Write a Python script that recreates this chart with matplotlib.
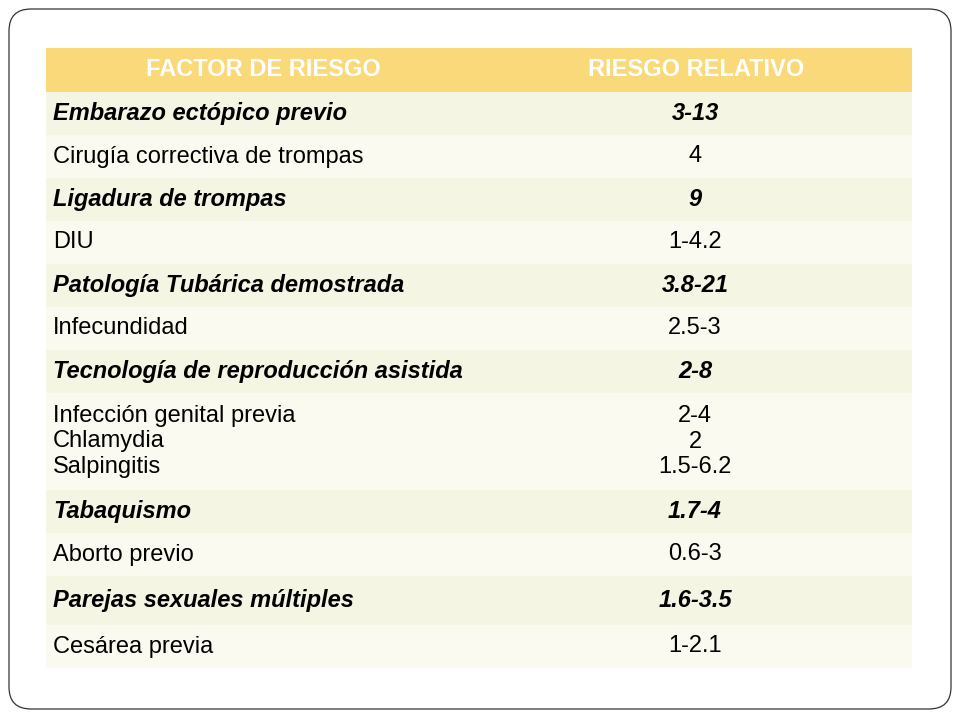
import matplotlib
matplotlib.use("Agg")
import matplotlib.pyplot as plt
from matplotlib.patches import Rectangle, FancyBboxPatch

header = ["FACTOR DE RIESGO", "RIESGO RELATIVO"]
factors = ["Embarazo ectópico previo", "Cirugía correctiva de trompas", "Ligadura de trompas", "DIU",
           "Patología Tubárica demostrada", "Infecundidad", "Tecnología de reproducción asistida",
           "Infección genital previa\nChlamydia\nSalpingitis", "Tabaquismo", "Aborto previo",
           "Parejas sexuales múltiples", "Cesárea previa"]
risks = ["3-13", "4", "9", "1-4.2", "3.8-21", "2.5-3", "2-8", "2-4\n2\n1.5-6.2", "1.7-4", "0.6-3", "1.6-3.5", "1-2.1"]
bold = [True, False, True, False, True, False, True, False, True, False, True, False]
row_edges = [92, 135, 178, 221, 264, 307, 350, 393, 490, 533, 576, 625, 668]

fig = plt.figure(figsize=(9.6, 7.2), dpi=100)
ax = fig.add_axes([0, 0, 1, 1])
ax.set_xlim(0, 960); ax.set_ylim(720, 0); ax.axis("off")
ax.add_patch(FancyBboxPatch((9, 9), 942, 700, boxstyle="round,pad=0,rounding_size=22",
                            fc="white", ec="#333333", lw=0.9))
x0, xm, x1 = 46, 480, 912
fs = 17
fam = "Liberation Sans"
ax.add_patch(Rectangle((x0, 48), x1 - x0, 44, fc="#F9D979", ec="none"))
ax.text((x0 + xm) / 2, 70, header[0], ha="center", va="center", color="white", fontsize=fs, fontweight="bold", family=fam)
ax.text((xm + x1) / 2, 70, header[1], ha="center", va="center", color="white", fontsize=fs, fontweight="bold", family=fam)
for i, (f, r, b) in enumerate(zip(factors, risks, bold)):
    y0, y1 = row_edges[i], row_edges[i + 1]
    col = "#F4F5E2" if i % 2 == 0 else "#FAFAF1"
    ax.add_patch(Rectangle((x0, y0), x1 - x0, y1 - y0, fc=col, ec="none"))
    kw = dict(va="center", fontsize=fs, family=fam, color="black", linespacing=1.2)
    if b:
        kw.update(fontweight="bold", fontstyle="italic")
    yc = (y0 + y1) / 2
    ax.text(53, yc, f, ha="left", **kw)
    ax.text((xm + x1) / 2 - 1, yc, r, ha="center", **kw)
fig.savefig("out.png", dpi=100)
